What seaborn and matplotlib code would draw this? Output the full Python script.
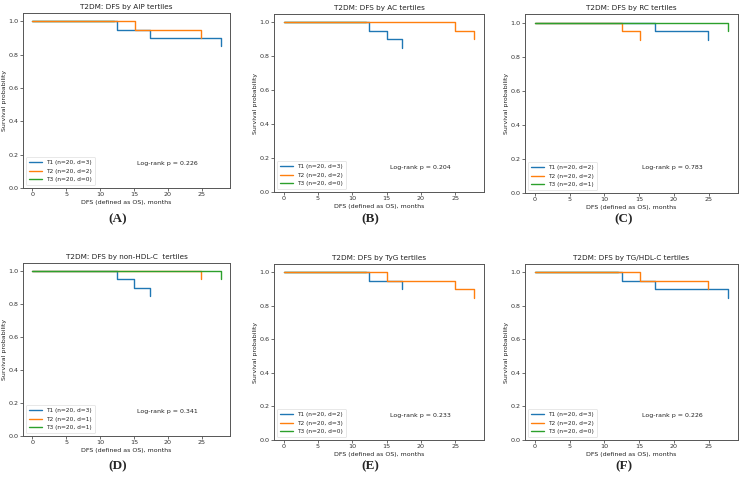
import matplotlib
matplotlib.use("Agg")
import matplotlib.pyplot as plt
import seaborn as sns
import pandas as pd

sns.set_style("white")
plt.rcParams['font.family'] = ['DejaVu Sans']

# ---- data ----
titles = ["T2DM: DFS by AIP tertiles", "T2DM: DFS by AC tertiles", "T2DM: DFS by RC tertiles",
          "T2DM: DFS by non-HDL-C  tertiles", "T2DM: DFS by TyG tertiles", "T2DM: DFS by TG/HDL-C tertiles"]
panel_labels = ["(A)", "(B)", "(C)", "(D)", "(E)", "(F)"]
pvalues = ["0.226", "0.204", "0.783", "0.341", "0.233", "0.226"]
deaths = [[3, 2, 0], [3, 2, 0], [2, 2, 1], [3, 1, 1], [2, 3, 0], [3, 2, 0]]

# step times and survival per panel, per tertile (T1, T2, T3)
t_A = [[0, 12.5, 17.3, 27.8], [0, 15.1, 24.9], [0, 12.0]]
s_A = [[1.0, 0.95, 0.90, 0.85], [1.0, 0.95, 0.90], [1.0, 1.0]]
t_B = [[0, 12.5, 15.1, 17.3], [0, 24.9, 27.7], [0, 12.0]]
s_B = [[1.0, 0.95, 0.90, 0.85], [1.0, 0.95, 0.90], [1.0, 1.0]]
t_C = [[0, 17.3, 24.9], [0, 12.5, 15.1], [0, 27.8]]
s_C = [[1.0, 0.95, 0.90], [1.0, 0.95, 0.90], [1.0, 0.95]]
t_D = [[0, 12.5, 15.0, 17.3], [0, 24.9], [0, 27.8]]
s_D = [[1.0, 0.95, 0.90, 0.85], [1.0, 0.95], [1.0, 0.95]]
t_E = [[0, 12.5, 17.3], [0, 15.1, 24.9, 27.8], [0, 12.0]]
s_E = [[1.0, 0.95, 0.90], [1.0, 0.95, 0.90, 0.85], [1.0, 1.0]]
t_F = [[0, 12.5, 17.3, 27.8], [0, 15.1, 24.9], [0, 12.0]]
s_F = [[1.0, 0.95, 0.90, 0.85], [1.0, 0.95, 0.90], [1.0, 1.0]]
times = [t_A, t_B, t_C, t_D, t_E, t_F]
survs = [s_A, s_B, s_C, s_D, s_E, s_F]
groups = ["T1", "T2", "T3"]
n_per_group = 20

colors = ["#1f77b4", "#ff7f0e", "#2ca02c"]

W, H = 743, 495
fig = plt.figure(figsize=(W / 100, H / 100), dpi=100)

# axes boxes in pixels: left, right, top, bottom
boxes = [(23, 230, 13, 188), (274, 484, 14, 192), (525, 738, 14, 193),
         (23, 230, 263, 436), (274, 484, 264, 440), (525, 738, 264, 440)]
label_pos = [(118, 219), (370, 219), (624, 219), (118, 466), (370, 466), (624, 466)]

for i in range(6):
    l, r, t, b = boxes[i]
    ax = fig.add_axes([l / W, 1 - b / H, (r - l) / W, (b - t) / H])
    # T3 on top when it has events, else underneath
    zo = [3, 4, 5] if deaths[i][2] > 0 else [3, 4, 2]
    for g in range(3):
        df = pd.DataFrame({"time": times[i][g], "surv": survs[i][g]})
        sns.lineplot(data=df, x="time", y="surv", ax=ax, drawstyle="steps-post",
                     color=colors[g], linewidth=1.0,
                     label=f"{groups[g]} (n={n_per_group}, d={deaths[i][g]})",
                     estimator=None, sort=False)
        ax.lines[-1].set_zorder(zo[g])
    ax.set_xlim(-1.39, 29.19)
    ax.set_ylim(0, 1.05)
    ax.set_xticks([0, 5, 10, 15, 20, 25])
    ax.set_yticks([0.0, 0.2, 0.4, 0.6, 0.8, 1.0])
    ax.set_yticklabels(["0.0", "0.2", "0.4", "0.6", "0.8", "1.0"])
    ax.tick_params(axis="both", labelsize=4.6, length=2, width=0.5, pad=1.2, colors="#333333",
                   bottom=True, left=True)
    for sp in ax.spines.values():
        sp.set_color("#555555")
        sp.set_linewidth(0.7)
    ax.set_title(titles[i], fontsize=5.2, pad=3, color="#222222")
    ax.set_xlabel("DFS (defined as OS), months", fontsize=4.5, labelpad=2, color="#222222")
    ax.set_ylabel("Survival probability", fontsize=4.5, labelpad=1, color="#222222")
    leg = ax.legend(loc="lower left", fontsize=4.2, frameon=True, handlelength=2.2,
                    borderpad=0.5, labelspacing=0.6, fancybox=True)
    leg.get_frame().set_linewidth(0.4)
    ax.text(0.55, 0.14, f"Log-rank p = {pvalues[i]}", transform=ax.transAxes,
            fontsize=4.5, ha="left", va="center", color="#222222")
    lx, ly = label_pos[i]
    fig.text(lx / W, 1 - ly / H, panel_labels[i], fontsize=9.5, fontweight="bold",
             family="Liberation Serif", ha="center", va="center")

fig.savefig("out.png", dpi=100)
